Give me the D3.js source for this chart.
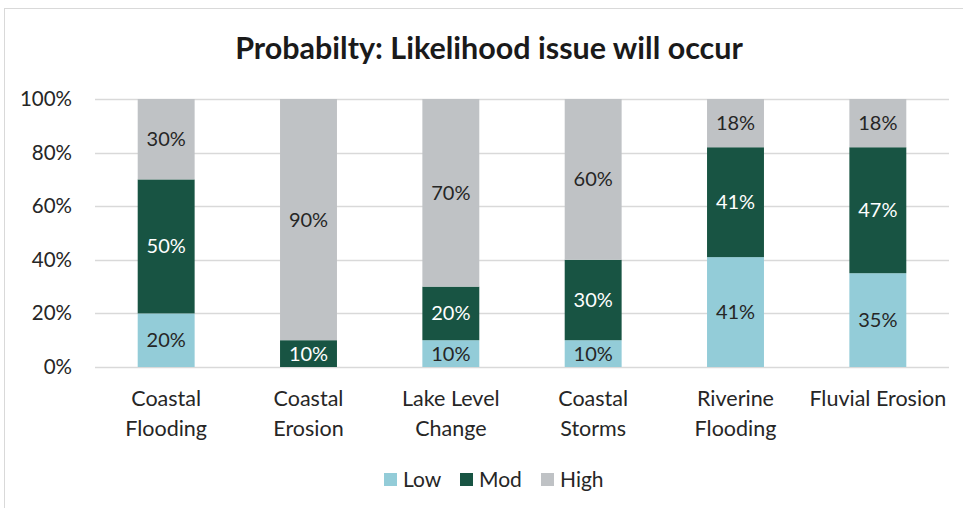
<!DOCTYPE html>
<html>
<head>
<meta charset="utf-8">
<script src="https://cdn.jsdelivr.net/npm/d3@7"></script>
<style>
  html, body { margin: 0; padding: 0; background: #fff; }
  svg { display: block; }
  text { font-family: Lato, "Open Sans", sans-serif; }
</style>
</head>
<body>
<svg id="chart" width="963" height="508"></svg>
<script>
// Chart data
const categories = [
  ["Coastal", "Flooding"],
  ["Coastal", "Erosion"],
  ["Lake Level", "Change"],
  ["Coastal", "Storms"],
  ["Riverine", "Flooding"],
  ["Fluvial Erosion"]
];
const seriesNames = ["Low", "Mod", "High"];
const lowValues  = [20, 0, 10, 10, 41, 35];
const modValues  = [50, 10, 20, 30, 41, 47];
const highValues = [30, 90, 70, 60, 18, 18];
const yTicks = [0, 20, 40, 60, 80, 100];
const titleText = "Probabilty: Likelihood issue will occur";

const colors = { Low: "#93CCD8", Mod: "#185443", High: "#BFC2C5" };
const labelColors = { Low: "#262626", Mod: "#ffffff", High: "#262626" };

const svg = d3.select("#chart");
const W = 963, H = 508;
const margin = { left: 95, right: 14, top: 99, bottom: 141 };
const FONT = "Lato, 'Open Sans', sans-serif";

// Chart frame
svg.append("rect")
  .attr("x", 4.5).attr("y", 8.5)
  .attr("width", W + 10).attr("height", H + 10)
  .attr("fill", "#fff").attr("stroke", "#d9d9d9").attr("stroke-width", 1);

// Title
svg.append("text")
  .attr("x", 489).attr("y", 59)
  .attr("text-anchor", "middle")
  .attr("font-size", 30.5).attr("font-weight", "bold")
  .attr("fill", "#1a1a1a")
  .text(titleText);

const x = d3.scaleBand()
  .domain(d3.range(categories.length))
  .range([margin.left, W - margin.right])
  .paddingInner(0.6).paddingOuter(0.3);

const y = d3.scaleLinear()
  .domain([0, 100])
  .range([H - margin.bottom, margin.top]);

// Gridlines
svg.append("g")
  .selectAll("line")
  .data(yTicks)
  .join("line")
  .attr("x1", margin.left).attr("x2", W - margin.right)
  .attr("y1", d => Math.round(y(d)) + 0.5).attr("y2", d => Math.round(y(d)) + 0.5)
  .attr("stroke", "#d9d9d9").attr("stroke-width", 1.5);

// Y axis labels
const yAxis = d3.axisLeft(y).tickValues(yTicks).tickFormat(d => d + "%").tickSize(0).tickPadding(0);
const yg = svg.append("g").attr("transform", `translate(${margin.left - 23},0)`).call(yAxis);
yg.select(".domain").remove();
yg.selectAll("text")
  .attr("font-family", FONT)
  .attr("font-size", 20.5).attr("fill", "#262626");

// Stacked bars
const rows = categories.map((c, i) => ({ i, Low: lowValues[i], Mod: modValues[i], High: highValues[i] }));
const stack = d3.stack().keys(seriesNames)(rows);

const layers = svg.append("g").selectAll("g")
  .data(stack)
  .join("g")
  .attr("fill", d => colors[d.key]);

layers.selectAll("rect")
  .data(d => d.filter(s => s[1] - s[0] > 0))
  .join("rect")
  .attr("x", d => x(d.data.i))
  .attr("width", x.bandwidth())
  .attr("y", d => y(d[1]))
  .attr("height", d => y(d[0]) - y(d[1]));

// Segment value labels
stack.forEach(layer => {
  svg.append("g").selectAll("text")
    .data(layer.filter(s => s[1] - s[0] > 0))
    .join("text")
    .attr("x", d => x(d.data.i) + x.bandwidth() / 2)
    .attr("y", d => (y(d[0]) + y(d[1])) / 2)
    .attr("dy", "0.35em")
    .attr("text-anchor", "middle")
    .attr("font-size", 20)
    .attr("fill", labelColors[layer.key])
    .text(d => (d[1] - d[0]) + "%");
});

// Category labels
const xl = svg.append("g").selectAll("text")
  .data(categories)
  .join("text")
  .attr("x", (d, i) => x(i) + x.bandwidth() / 2)
  .attr("y", 406)
  .attr("text-anchor", "middle")
  .attr("font-size", 21.5)
  .attr("fill", "#262626");
xl.selectAll("tspan")
  .data(d => d)
  .join("tspan")
  .attr("x", function () { return d3.select(this.parentNode).attr("x"); })
  .attr("dy", (d, i) => i === 0 ? 0 : 30)
  .text(d => d);

// Legend
const legendX = [384, 460, 541];
const lg = svg.append("g").selectAll("g")
  .data(seriesNames)
  .join("g")
  .attr("transform", (d, i) => `translate(${legendX[i]},473)`);
lg.append("rect").attr("width", 13).attr("height", 13).attr("fill", d => colors[d]);
lg.append("text")
  .attr("x", 19).attr("y", 7).attr("dy", "0.35em")
  .attr("font-size", 21).attr("fill", "#262626")
  .text(d => d);
</script>
</body>
</html>
